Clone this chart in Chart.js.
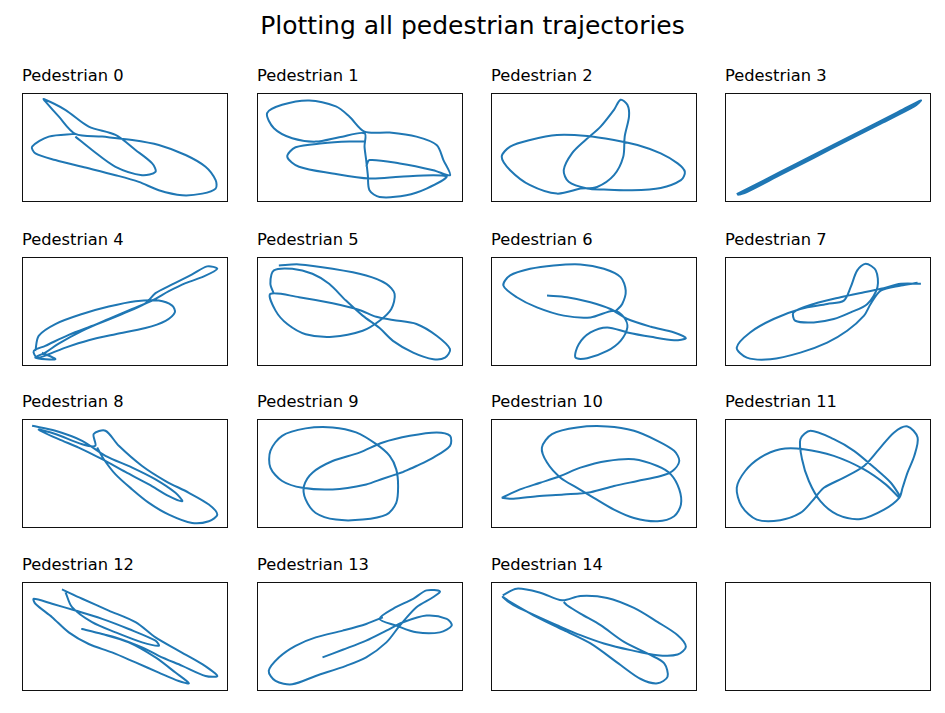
<!DOCTYPE html>
<html><head><meta charset="utf-8">
<script src="https://cdn.jsdelivr.net/npm/chart.js@4"></script>
<style>
html,body{margin:0;padding:0;background:#fff;}
#fig{position:relative;width:945px;height:713px;overflow:hidden;background:#fff;font-family:"DejaVu Sans",sans-serif;color:#000;}
#suptitle{position:absolute;left:0;width:945px;text-align:center;top:13px;font-size:25px;line-height:25px;white-space:nowrap;}
.ttl{position:absolute;font-size:16.3px;line-height:16px;white-space:nowrap;}
.cv{position:absolute;}
</style></head>
<body>
<div id="fig"><div id="suptitle">Plotting all pedestrian trajectories</div></div>
<script>
// ---- data: trajectory samples (arbitrary position units) ----
const titles = ["Pedestrian 0","Pedestrian 1","Pedestrian 2","Pedestrian 3","Pedestrian 4","Pedestrian 5","Pedestrian 6","Pedestrian 7","Pedestrian 8","Pedestrian 9","Pedestrian 10","Pedestrian 11","Pedestrian 12","Pedestrian 13","Pedestrian 14"];

const p0x = [25.9,13,4.9,6.5,16.2,29.2,45.4,56.7,66.4,77.8,87.5,94,94,89.1,79.4,66.4,53.5,38.9,25.9,17.8,11.3,10.5,21,32.4,45.4,55.1,63.2,64.8,58.3,45.4,34,25.9];
const p0y = [62.5,60,50.8,44.6,38.5,32.3,24.6,18.5,10.8,6.2,7.7,12.3,20,32.3,43.1,52.3,56.9,60,62.5,78.5,92.3,94.5,84.6,69.2,61.5,47.7,35.4,27.7,24.6,32.3,47.7,60];

const p1x = [53,54.6,69.3,85.6,93.7,90.5,87.2,77.4,64.4,52.2,44.8,38.3,25.3,12.2,4.9,8.2,17.1,28.5,39.9,52.2,52.2,53,53.8,54.6,59.5,72.5,82.3,92.1,85.6,69.3,54.6,36.7,20.4,14.7,18.7,31.8,44.8,52.2];
const p1y = [32.3,38.5,35.4,29.2,24.6,38.5,52.3,60,63.7,64.6,78.5,87.7,93.2,89.2,81.5,67.7,58.5,55.4,59.4,63.1,50.8,38.5,24.6,10.8,4.6,6.2,12.3,23.1,24.6,23.1,21.5,26.2,32.3,41.5,50.2,53.8,55.4,55.4];

const p2x = [43.4,32,19,9.3,5.2,9.3,19,32,46.7,59.7,71.1,82.4,90.6,94.1,92.2,82.4,67.8,54.8,46.7,37.7,35.3,39.3,45.9,53.2,59.7,62.9,66.2,67,64.9,64.2,59.7,51.5,43.4];
const p2y = [12.3,7.7,15.4,29.2,41.5,50.8,56.9,61.5,60.6,56.9,52.3,44.6,35.4,27.7,20,12.9,10.8,11.4,12.3,18.5,29.2,44.6,56.9,69.2,84.6,93.8,89.2,78.5,60,41.5,24.6,13.8,12.3];

const p3x = [5.7,18.7,35,51.2,67.5,83.7,95.1,91.9,75.6,59.3,43.1,26.8,10.6,6.5,23.6,39.8,56.1,72.4,88.6,94.8];
const p3y = [7.1,19.7,35.4,51.1,66.5,82.2,93.2,87.7,72,56.3,40.6,24.9,9.2,6.9,23.4,39.1,54.7,70.4,86.1,92];

const p4x = [6.5,8.1,16.2,29.2,42.1,55.1,66.4,72.9,74.2,69.7,59.9,45.4,32.4,21.1,13,7.3,5.7,11.3,22.7,35.6,48.6,59.9,64.8,72.9,82.6,89.9,94.8,88.3,79.4,71.3,63.2,53.5,42.1,29.2,17.8,11.3,6.5,16.2,9.7];
const p4y = [13.8,27.7,38.5,47.7,54.5,59.4,60,55.4,49.2,41.5,34.8,29.2,23.7,16.9,10.8,7.7,13.8,18.5,28.6,37.8,47.7,57.5,66.8,74.8,84,91.4,89.2,82.2,76,68.6,60,52.3,43.1,32.3,20.6,12.3,7.7,6.2,12.3];

const p5x = [10.6,20.4,36.7,53,62.8,66.8,65.2,59.5,51.3,36.7,23.6,14.7,9,6.5,20.4,36.7,49.7,57.9,66,77.4,87.2,93.7,91.3,85.6,75.8,66,59.5,51.3,43.2,35,26.9,17.1,8.2,6.5,8.2];
const p5y = [92.3,93.2,89.2,83.1,75.4,66.2,52.3,41.5,32.3,26.8,29.2,38.5,50.8,66.2,63.1,57.5,51.4,45.2,42.2,38.5,27.7,15.4,7.7,6.2,12.3,23.1,34.8,46.2,60,75.4,84.6,89.2,87.7,75.4,66.2];

const p6x = [27.2,36.9,48.3,58,66.2,77.6,88.9,94.6,88.9,77.6,66.2,56.4,48.3,42.6,41,46.7,56.4,62.9,66.2,64.6,59.7,48.3,35.3,22.3,12.5,6,9.3,19,30.4,43.4,54.8,62.9,65.4,63.7,60.5];
const p6y = [64.6,63.1,58.5,52.3,43.1,36,30.8,25.5,23.7,26.8,30.8,35.4,30.8,20,7.7,7.1,13.8,23.1,35.4,44.6,50.8,44.6,46.2,53.8,63.1,73.8,83.1,89.2,92.3,93.2,89.2,81.5,69.2,56.9,50.2];

const p7x = [95.1,85.4,75.6,67.5,56.1,43.1,33.3,34.1,43.1,52.8,61,69.1,74,73.2,68.3,64.2,61,57.7,49.6,36.6,23.6,12.2,5.7,10.6,22,36.6,49.6,59.3,67.5,70.7,75.6,85.4,93.5];
const p7y = [75.4,75.4,70.8,67.7,63.1,56.9,49.2,41.5,40,43.1,49.2,56.9,72.3,87.7,93.8,87.7,72.3,60,56.9,52.3,43.1,30.8,16.9,7.7,6.2,12.3,21.5,32.3,46.2,56.9,69.2,73.8,76.3];

const p8x = [4.9,16.2,29.2,40.5,53.5,64.8,74.5,77.8,71.3,61.6,50.2,38.9,27.5,17.8,8.1,16.2,29.2,35.6,34.8,40.5,47,58.3,69.7,81,90.7,94.8,90.7,82.6,71.3,61.6,53.5,45.4,39.7,36.5];
const p8y = [93.8,89.2,80,66.2,55.4,44.6,32.3,24.6,29.2,40,51.4,63.1,73.8,81.5,90.2,86.2,76.9,75.4,86.2,89.2,75.4,56.9,43.1,32.3,21.5,12.3,6.2,4.6,12.3,23.1,35.4,49.2,63.1,73.8];

const p9x = [70.9,61.1,53,36.7,22,12.2,6.5,6.5,12.2,23.6,36.7,48.1,57.9,64.4,67.6,68.5,67.6,62.8,51.3,38.3,28.5,23.6,22.8,26.9,36.7,49.7,61.1,74.2,87.2,93.7,93.7,85.6,77.4,70.9];
const p9y = [51.4,45.2,40,35.4,36.9,43.1,55.4,70.8,84.6,91.4,92.3,87.7,76.9,66.2,53.8,38.5,23.1,12.3,7.7,7.7,13.8,26.2,38.5,50.8,61.5,69.2,78.5,84.6,87.7,84.6,75.4,64.6,56.9,51.4];

const p10x = [5.2,14.1,23.9,33.7,43.4,56.4,69.4,80.8,87.3,91.4,92.2,88.9,80.8,69.4,59.7,49.9,41.8,33.7,27.2,24.7,29.6,41.8,56.4,69.4,80.8,88.9,91.4,88.1,82.4,71.1,59.7,48.3,35.3,22.3,10.9,5.2];
const p10y = [27.7,35.4,41.5,47.7,55.4,61.5,63.1,56.9,49.2,35.4,21.5,10.8,6.2,9.2,16.9,27.7,36.9,46.2,60,73.8,86.2,92.3,93.2,89.2,80,70.8,61.5,52.3,47.7,43.1,38.5,32.9,30.8,29.2,26.8,27.7];

const p11x = [84.6,78,67.5,52.8,38.2,26.8,17.1,9.8,5.7,8.1,15.4,26.8,36.6,42.3,48,57.7,67.5,74.8,82.1,88.6,93.5,91.9,88.6,86.2,84.6,77.2,65.9,54.5,46.3,40.7,37.4,36.6,41.5,52.8,62.6,72.4,80.5,85];
const p11y = [27.7,40,53.8,66.2,72.3,72.3,64.6,52.3,36.9,20,7.7,7.1,13.8,24.6,36.9,46.2,56.9,72.3,87.7,93.2,83.1,66.2,50.8,36.9,27.7,16.9,8.3,12.3,24.6,43.1,63.1,81.5,89.2,81.5,70.8,55.4,41.5,29.2];

const p12x = [19.4,29.2,42.1,55.1,64.8,76.1,87.5,94.8,89.1,77.8,66.4,58.3,45.4,32.4,29.2,38.9,51.8,64.8,74.5,81,76.1,66.4,55.1,43.7,32.4,22.7,14.6,6.5,5.7,14.6,25.9,38.9,51.8,64.8,66.4,58.3,45.4,34,24.3,21.1];
const p12y = [93.2,84.6,73.8,63.1,49.2,36.9,24.6,13.8,13.8,23.1,32.3,40,49.2,55.4,56.9,52.3,44.6,30.8,16.9,7.1,9.2,16.9,26.2,35.4,43.1,53.8,67.7,80,84.6,80,73.8,66.2,56.9,46.2,41.5,44.6,53.8,63.1,76.9,90.8];

const p13x = [31.8,41.6,53,62.8,70.9,82.3,92.1,94.5,88.8,77.4,67.6,59.5,66,75.8,82.3,88.8,85.6,77.4,69.3,62.8,53,43.2,28.5,17.1,9,5.7,10.6,18.7,28.5,41.6,53,61.1];
const p13y = [30.8,37.8,46.2,55.4,63.1,69.2,66.2,60,53.8,53.8,60,66.2,75.4,84.6,92.3,91.4,86.2,76.9,60,44.6,30.8,23.1,13.8,6.2,9.2,18.5,30.8,41.5,49.2,55.4,61.5,67.7];

const p14x = [5.7,12.5,23.9,34.5,43.4,56.4,69.4,80.8,90.6,94.6,90.6,80.8,67.8,54.8,43.4,32,20.6,10.9,5.7,9.3,20.6,35.3,48.3,62.9,72.7,80.8,85.7,84.1,77.6,64.6,53.2,43.4,36.9,35.3];
const p14y = [87.8,93.9,90.2,83.2,87.2,85.4,76.2,63.4,51.2,40.6,33.5,32.9,37.5,43.6,51.2,60.4,70.1,78.7,86.3,81.7,69.5,55.8,43.6,23.8,11,7,13.1,25.3,32.9,45.1,60.4,71,78.7,81.7];

const allX = [p0x,p1x,p2x,p3x,p4x,p5x,p6x,p7x,p8x,p9x,p10x,p11x,p12x,p13x,p14x];
const allY = [p0y,p1y,p2y,p3y,p4y,p5y,p6y,p7y,p8y,p9y,p10y,p11y,p12y,p13y,p14y];

// ---- layout (grid of 4x4 axes) ----
const colLeft = [22, 257, 491, 725];
const rowTop  = [93, 257, 419, 582];
const boxW = 206, boxH = 109;

const framePlugin = {
  id: 'frame',
  afterDraw(chart) {
    const c = chart.ctx, a = chart.chartArea;
    c.save();
    c.strokeStyle = '#111';
    c.lineWidth = 1;
    c.strokeRect(a.left + 0.5, a.top + 0.5, a.right - a.left - 1, a.bottom - a.top - 1);
    c.restore();
  }
};

const fig = document.getElementById('fig');
for (let k = 0; k < 16; k++) {
  const r = Math.floor(k / 4), col = k % 4;
  const L = colLeft[col], T = rowTop[r];
  if (k < titles.length) {
    const t = document.createElement('div');
    t.className = 'ttl';
    t.style.left = L + 'px';
    t.style.top = (T - 25) + 'px';
    t.textContent = titles[k];
    fig.appendChild(t);
  }
  const cv = document.createElement('canvas');
  cv.className = 'cv';
  cv.width = boxW; cv.height = boxH;
  cv.style.left = L + 'px'; cv.style.top = T + 'px';
  cv.style.width = boxW + 'px'; cv.style.height = boxH + 'px';
  fig.appendChild(cv);
  const datasets = [];
  if (k < allX.length) {
    const xs = allX[k], ys = allY[k];
    datasets.push({
      data: xs.map((x, i) => ({x: x, y: ys[i]})),
      showLine: true,
      borderColor: '#1f77b4',
      backgroundColor: '#1f77b4',
      borderWidth: 2,
      pointRadius: 0,
      tension: 0.3,
      fill: false
    });
  }
  new Chart(cv.getContext('2d'), {
    type: 'scatter',
    data: { datasets: datasets },
    options: {
      responsive: false,
      animation: false,
      events: [],
      devicePixelRatio: 1,
      layout: { padding: 0 },
      plugins: { legend: { display: false }, tooltip: { enabled: false }, title: { display: false } },
      scales: {
        x: { type: 'linear', min: 0, max: 100, display: false },
        y: { type: 'linear', min: 0, max: 100, display: false }
      }
    },
    plugins: [framePlugin]
  });
}
</script>
</body></html>
